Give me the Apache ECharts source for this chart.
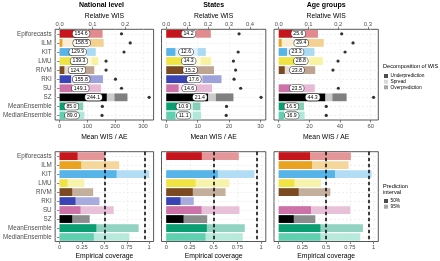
<!DOCTYPE html>
<html>
<head>
<meta charset="utf-8">
<script src="https://cdn.jsdelivr.net/npm/echarts@6/dist/echarts.min.js"></script>
<style>
html, body { margin: 0; padding: 0; background: #fff; }
#chart { width: 440px; height: 261px; }
</style>
</head>
<body>
<div id="chart"></div>
<script>
var models = ['Epiforecasts', 'ILM', 'KIT', 'LMU', 'RIVM', 'RKI', 'SU', 'SZ', 'MeanEnsemble', 'MedianEnsemble'];
var modelColors = ['#c4161c', '#e9a320', '#56b4e9', '#f0e442', '#7b4a22', '#3b44b4', '#cc72a8', '#000000', '#0b9e73', '#5fd1b0'];
var panelTitles = ['National level', 'States', 'Age groups'];

// national level
var natUnder  = [60, 11, 38, 55, 18, 42, 45, 170, 22, 20];
var natSpread = [42, 96, 61, 60, 40, 37, 45, 27, 40, 40];
var natOver   = [52.6, 51.5, 30.9, 24.3, 66.7, 76.8, 59.1, 47.1, 23, 29];
var natWIS    = [154.6, 158.5, 129.9, 139.3, 124.7, 155.8, 149.1, 244.1, 85.0, 89.0];
var natAE     = [222.6, 254, 231.6, 167, 167, 201, 222.6, 322, 153.7, 152.5];
var natCov50  = [0.20, 0.24, 0.636, 0.088, 0.14, 0.177, 0.233, 0.14, 0.41, 0.382];
var natCov95  = [0.505, 0.665, 1.0, 0.276, 0.375, 0.445, 0.604, 0.336, 0.883, 0.78];

// states
var stUnder  = [6, null, 3, 6.5, 5.5, 9, 4, 13.4, 3.5, 3];
var stSpread = [3.5, null, 7, 4.5, 4, 2.5, 5, 2.4, 5, 5.5];
var stOver   = [4.7, null, 2.6, 3.3, 5.7, 6.1, 5.6, 5.6, 2.4, 2.6];
var stWIS    = [14.2, null, 12.6, 14.3, 15.2, 17.6, 14.6, 21.4, 10.9, 11.1];
var stAE     = [23.2, null, 22.9, 21.4, 22.1, 21.6, 23.7, 30.2, 19.2, 19.1];
var stCov50  = [0.375, null, 0.544, 0.31, 0.28, 0.15, 0.372, 0.182, 0.428, 0.414];
var stCov95  = [0.765, null, 0.93, 0.667, 0.625, 0.29, 0.772, 0.432, 0.828, 0.807];

// age groups
var agUnder  = [9, 2, 5.5, 12, 4, null, 8, 30.5, 4, 3.5];
var agSpread = [7, 16.5, 10, 8, 9, null, 7, 4.5, 8, 9];
var agOver   = [9.6, 10.9, 7.8, 8.8, 10.8, null, 8.5, 9.3, 4.5, 4.4];
var agWIS    = [25.6, 29.4, 23.3, 28.8, 23.8, null, 23.5, 44.3, 16.5, 16.9];
var agAE     = [41.1, 48.5, 43.3, 38.7, 35.4, null, 38.9, 61.9, 31, 31];
var agCov50  = [0.33, 0.351, 0.593, 0.165, 0.21, null, 0.34, 0.158, 0.439, 0.439];
var agCov95  = [0.761, 0.737, 0.979, 0.446, 0.544, null, 0.754, 0.386, 0.888, 0.86];

// axis ticks
var wisTicks = [[0, 100, 200, 300], [0, 10, 20, 30], [0, 20, 40, 60]];
var relTicks = [[0, 0.1, 0.2], [0, 0.1, 0.2, 0.3, 0.4], [0, 0.1, 0.2, 0.3]];
var baselineWIS = [1180, 66.7, 194];
var covTicks = [0, 0.25, 0.5, 0.75, 1];
var covTargets = [0.5, 0.95];

var panels = [
  { under: natUnder, spread: natSpread, over: natOver, wis: natWIS, ae: natAE, c50: natCov50, c95: natCov95 },
  { under: stUnder, spread: stSpread, over: stOver, wis: stWIS, ae: stAE, c50: stCov50, c95: stCov95 },
  { under: agUnder, spread: agSpread, over: agOver, wis: agWIS, ae: agAE, c50: agCov50, c95: agCov95 }
];

var FONT = '"Liberation Sans", Arial, sans-serif';
var colLeft = [49.3, 161.5, 274];
var colWidth = 104.3;
var rowTop = [29.3, 151.7];
var rowHeight = [90.7, 91.6];

function tint(hex, f) {
  var r = parseInt(hex.substr(1, 2), 16), g = parseInt(hex.substr(3, 2), 16), b = parseInt(hex.substr(5, 2), 16);
  r = Math.round(r + (255 - r) * f); g = Math.round(g + (255 - g) * f); b = Math.round(b + (255 - b) * f);
  return 'rgb(' + r + ',' + g + ',' + b + ')';
}
function colored(vals, f) {
  return vals.map(function (v, i) {
    return { value: v == null ? '-' : v, itemStyle: { color: tint(modelColors[i], f) } };
  });
}
function gridLines(idxX, idxY, ticks) {
  return {
    type: 'scatter', xAxisIndex: idxX, yAxisIndex: idxY, data: [], z: 0, silent: true,
    markLine: {
      silent: true, z: 0, symbol: ['none', 'none'], label: { show: false }, animation: false,
      lineStyle: { color: '#e6e6e6', width: 0.6, type: [2, 2] },
      data: ticks.map(function (v) { return { xAxis: v }; })
        .concat(models.map(function (m) { return { yAxis: m }; }))
    }
  };
}

var grids = [], xAxes = [], yAxes = [], series = [], graphics = [];
var tickLabel = { fontSize: 5.8, color: '#4d4d4d', fontFamily: FONT };
var axisName = { fontSize: 6.8, color: '#000', fontFamily: FONT };

// grids: 0..2 top row, 3..5 bottom row
[0, 1].forEach(function (row) {
  colLeft.forEach(function (l) {
    grids.push({ left: l, top: rowTop[row], width: colWidth, height: rowHeight[row],
      show: true, borderColor: '#444', borderWidth: 0.9, backgroundColor: '#fff' });
  });
});

// y axes: 0..2 top row, 3..5 bottom row
[0, 1].forEach(function (row) {
  [0, 1, 2].forEach(function (k) {
    yAxes.push({
      type: 'category', gridIndex: row * 3 + k, data: models, inverse: true, boundaryGap: true,
      axisLine: { show: false },
      axisTick: { show: k === 0, length: 2.5, alignWithLabel: true, lineStyle: { color: '#333', width: 0.6 } },
      axisLabel: { show: k === 0, margin: 3.5, fontSize: 6.3, color: '#4d4d4d', fontFamily: FONT },
      splitLine: { show: false }
    });
  });
});

// x axes: 0..2 mean WIS (bottom), 3..5 relative WIS (top), 6..8 coverage
var ranges = panels.map(function (p) {
  var mx = 0;
  p.wis.concat(p.ae).forEach(function (v) { if (v != null && v > mx) mx = v; });
  return [-0.05 * mx, 1.05 * mx];
});
[0, 1, 2].forEach(function (k) {
  xAxes.push({
    type: 'value', gridIndex: k, position: 'bottom', min: ranges[k][0], max: ranges[k][1],
    name: 'Mean WIS / AE', nameLocation: 'middle', nameGap: 14, nameTextStyle: axisName,
    axisLine: { show: false }, splitLine: { show: false },
    axisTick: { show: true, length: 2.5, customValues: wisTicks[k], lineStyle: { color: '#333', width: 0.6 } },
    axisLabel: Object.assign({ margin: 3, customValues: wisTicks[k] }, tickLabel)
  });
});
[0, 1, 2].forEach(function (k) {
  xAxes.push({
    type: 'value', gridIndex: k, position: 'top',
    min: ranges[k][0] / baselineWIS[k], max: ranges[k][1] / baselineWIS[k],
    name: 'Relative WIS', nameLocation: 'middle', nameGap: 10, nameTextStyle: axisName,
    axisLine: { show: false }, splitLine: { show: false },
    axisTick: { show: true, length: 2.5, customValues: relTicks[k], lineStyle: { color: '#333', width: 0.6 } },
    axisLabel: Object.assign({ margin: 2, customValues: relTicks[k],
      formatter: function (v) { return v.toFixed(1); } }, tickLabel)
  });
});
[0, 1, 2].forEach(function (k) {
  xAxes.push({
    type: 'value', gridIndex: 3 + k, position: 'bottom', min: -0.05, max: 1.05,
    name: 'Empirical coverage', nameLocation: 'middle', nameGap: 11.5, nameTextStyle: axisName,
    axisLine: { show: false }, splitLine: { show: false },
    axisTick: { show: true, length: 2.5, customValues: covTicks, lineStyle: { color: '#333', width: 0.6 } },
    axisLabel: Object.assign({ margin: 3, customValues: covTicks,
      formatter: function (v) { return String(v); } }, tickLabel)
  });
});

panels.forEach(function (p, k) {
  var stack = 'wis' + k;
  var barCommon = { type: 'bar', xAxisIndex: k, yAxisIndex: k, barWidth: '86%', barGap: '-100%', z: 2, silent: true };
  series.push(gridLines(k, k, wisTicks[k]));
  series.push(Object.assign({ name: 'Underprediction', stack: stack, data: colored(p.under, 0) }, barCommon));
  series.push(Object.assign({ name: 'Spread', stack: stack, data: colored(p.spread, 0.8) }, barCommon));
  series.push(Object.assign({ name: 'Overprediction', stack: stack, data: colored(p.over, 0.5) }, barCommon));
  series.push(Object.assign({}, barCommon, {
    name: 'WIS label', z: 4,
    data: p.wis.map(function (v) { return v == null ? '-' : v; }),
    itemStyle: { color: 'rgba(0,0,0,0)' },
    label: {
      show: true, position: 'inside', fontSize: 5.2, color: '#000', fontFamily: FONT,
      backgroundColor: '#fff', borderColor: '#333', borderWidth: 0.6, borderRadius: 3,
      padding: [1, 2, 0.5, 2],
      formatter: function (d) { return Number(d.value).toFixed(1); }
    }
  }));
  series.push({
    type: 'scatter', name: 'AE', xAxisIndex: k, yAxisIndex: k, z: 5, silent: true,
    symbolSize: 3.2, itemStyle: { color: '#000' },
    data: p.ae.map(function (v, i) { return v == null ? null : [v, models[i]]; }).filter(Boolean)
  });

  var cov = { type: 'bar', xAxisIndex: 6 + k, yAxisIndex: 3 + k, barWidth: '86%', barGap: '-100%', z: 2, silent: true };
  series.push(gridLines(6 + k, 3 + k, covTicks));
  series.push(Object.assign({ name: '95%', data: colored(p.c95, 0.55) }, cov));
  series.push(Object.assign({ name: '50%', data: colored(p.c50, 0) }, cov));
  series.push({
    type: 'scatter', xAxisIndex: 6 + k, yAxisIndex: 3 + k, data: [], z: 6, silent: true,
    markLine: {
      silent: true, z: 6, symbol: ['none', 'none'], label: { show: false }, animation: false,
      lineStyle: { color: '#000', width: 1.5, type: [3.5, 2.5] },
      data: covTargets.map(function (v) { return { xAxis: v }; })
    }
  });

  graphics.push({ type: 'text', x: colLeft[k] + colWidth / 2, y: 5,
    style: { text: panelTitles[k], textAlign: 'center', textVerticalAlign: 'middle',
      font: 'bold 7px ' + FONT, fill: '#000' } });
});

// legends
function legendBlock(titleLines, y0, items, ys) {
  titleLines.forEach(function (t, i) {
    graphics.push({ type: 'text', x: 383, y: y0 + i * 6,
      style: { text: t, textVerticalAlign: 'middle', font: '5.6px ' + FONT, fill: '#000' } });
  });
  items.forEach(function (it, i) {
    graphics.push({ type: 'rect', shape: { x: 384, y: ys[i] - 2, width: 4, height: 4 }, style: { fill: it[1] } });
    graphics.push({ type: 'text', x: 390.5, y: ys[i],
      style: { text: it[0], textVerticalAlign: 'middle', font: '4.8px ' + FONT, fill: '#000' } });
  });
}
legendBlock(['Decomposition of WIS'], 66.7,
  [['Underprediction', '#4d4d4d'], ['Spread', '#d9d9d9'], ['Overprediction', '#a6a6a6']], [76, 81.7, 87.3]);
legendBlock(['Prediction', 'interval'], 186.7,
  [['50%', '#4d4d4d'], ['95%', '#a6a6a6']], [201, 206.7]);

var chart = echarts.init(document.getElementById('chart'));
var option = {
  animation: false,
  backgroundColor: '#fff',
  grid: grids,
  xAxis: xAxes,
  yAxis: yAxes,
  series: series,
  graphic: graphics
};
option && chart.setOption(option);
</script>
</body>
</html>
